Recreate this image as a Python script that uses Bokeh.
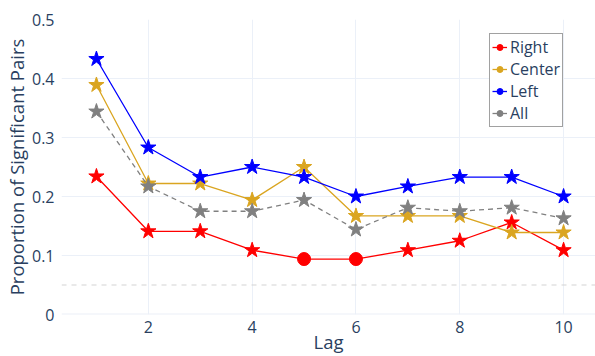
from bokeh.plotting import figure
from bokeh.models import ColumnDataSource, FixedTicker, Span, Legend, LegendItem
from bokeh.embed import file_html
from bokeh.resources import INLINE

lags = [1, 2, 3, 4, 5, 6, 7, 8, 9, 10]
right = [0.234, 0.141, 0.141, 0.109, 0.094, 0.094, 0.109, 0.125, 0.156, 0.109]
right_markers = ["star", "star", "star", "star", "circle", "circle", "star", "star", "star", "star"]
center = [0.389, 0.222, 0.222, 0.194, 0.25, 0.167, 0.167, 0.167, 0.139, 0.139]
left = [0.433, 0.283, 0.233, 0.25, 0.233, 0.2, 0.217, 0.233, 0.233, 0.2]
all_ = [0.344, 0.217, 0.175, 0.175, 0.194, 0.144, 0.181, 0.175, 0.181, 0.163]
threshold = 0.05
x_ticks = [2, 4, 6, 8, 10]
y_ticks = [0, 0.1, 0.2, 0.3, 0.4, 0.5]
y_tick_labels = ["0", "0.1", "0.2", "0.3", "0.4", "0.5"]

TXT = "#2a3f5f"
GRID = "#ebf0f8"
FONT = "Open Sans"

p = figure(width=595, height=356, output_backend="svg", toolbar_location=None,
           x_range=(0.327, 10.615), y_range=(0, 0.5),
           min_border_left=60, min_border_top=19, min_border_right=0, min_border_bottom=42)
p.outline_line_color = None
p.background_fill_color = "white"
p.border_fill_color = "white"

for ax in (p.xaxis[0], p.yaxis[0]):
    ax.axis_line_color = None
    ax.major_tick_line_color = None
    ax.minor_tick_line_color = None
    ax.major_label_text_font = FONT
    ax.major_label_text_font_size = "16px"
    ax.major_label_text_color = TXT
    ax.axis_label_text_font = FONT
    ax.axis_label_text_font_size = "18.5px"
    ax.axis_label_text_font_style = "normal"
    ax.axis_label_text_color = TXT

p.xaxis.ticker = FixedTicker(ticks=x_ticks)
p.yaxis.ticker = FixedTicker(ticks=y_ticks)
p.yaxis.major_label_overrides = {t: l for t, l in zip(y_ticks, y_tick_labels)}
p.xaxis.axis_label = "Lag"
p.yaxis.axis_label = "Proportion of Significant Pairs"
p.xaxis.major_label_standoff = 0
p.xaxis.axis_label_standoff = -7
p.yaxis.major_label_standoff = 1
p.yaxis.axis_label_standoff = 0

p.xgrid.grid_line_color = GRID
p.ygrid.grid_line_color = GRID
p.xgrid.grid_line_width = 1
p.ygrid.grid_line_width = 1

p.add_layout(Span(location=0, dimension="width", line_color=GRID, line_width=2))
p.add_layout(Span(location=threshold, dimension="width", line_color="#d3d3d3",
                  line_width=1, line_dash="5 5"))

series = [
    ("Right", right, "red", "solid", right_markers),
    ("Center", center, "goldenrod", "solid", ["star"] * 10),
    ("Left", left, "blue", "solid", ["star"] * 10),
    ("All", all_, "gray", "5 4", ["star"] * 10),
]

items = []
for name, vals, col, dash, markers in series:
    sizes = [16 if m == "star" else 13 for m in markers]
    src = ColumnDataSource(dict(x=lags, y=vals, m=markers, s=sizes))
    p.line("x", "y", source=src, line_color=col, line_width=1.3, line_dash=dash)
    p.scatter("x", "y", source=src, marker="m", size="s", fill_color=col, line_color=col)
    # legend-only glyphs, placed outside the visible range
    lg_src = ColumnDataSource(dict(x=[-100.0, -99.0], y=[-100.0, -100.0]))
    lg_line = p.line("x", "y", source=lg_src, line_color=col, line_width=1.3)
    lg_pt = p.scatter("x", "y", source=lg_src, marker="circle", size=8,
                      fill_color=col, line_color=col)
    items.append(LegendItem(label=name, renderers=[lg_line, lg_pt]))

legend = Legend(items=items, location=(428, 187))
legend.label_text_font = FONT
legend.label_text_font_size = "16px"
legend.label_text_color = TXT
legend.label_text_line_height = 1.0
legend.glyph_width = 15
legend.glyph_height = 20
legend.label_height = 20
legend.label_standoff = 3
legend.spacing = 0
legend.padding = 2
legend.margin = 0
legend.border_line_color = "#444444"
legend.border_line_width = 1
legend.background_fill_color = "white"
legend.background_fill_alpha = 1
p.add_layout(legend, "center")

open("out.html", "w").write(file_html(p, INLINE))
